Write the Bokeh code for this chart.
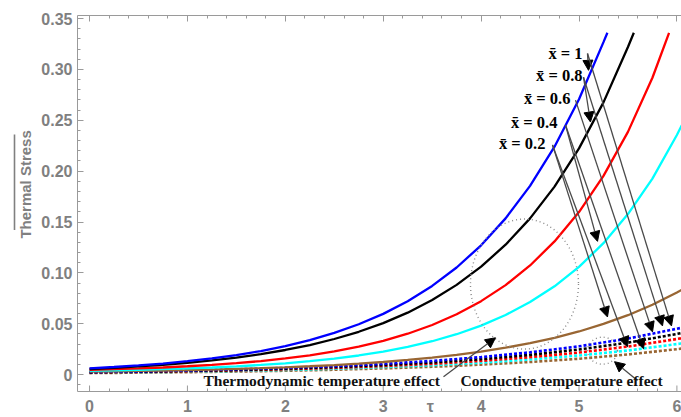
from math import pi

from bokeh.plotting import figure
from bokeh.layouts import row
from bokeh.models import (LinearAxis, SingleIntervalTicker, FixedTicker, NumeralTickFormatter,
                          Arrow, NormalHead, Label, ColumnDataSource)
from bokeh.core.properties import value
from bokeh.embed import file_html
from bokeh.resources import INLINE

# ---- thermodynamic temperature effect (solid curves), one series per x-bar ----
tau_x10 = [0.0, 0.25, 0.5, 0.75, 1.0, 1.25, 1.5, 1.75, 2.0, 2.25, 2.5, 2.75, 3.0,
           3.25, 3.5, 3.75, 4.0, 4.25, 4.5, 4.75, 5.0, 5.25, 5.29]
stress_x10 = [0.0062, 0.0075, 0.0090, 0.0109, 0.0132, 0.0159, 0.0192, 0.0232, 0.0281,
              0.0339, 0.0410, 0.0495, 0.0597, 0.0722, 0.0872, 0.1053, 0.1271, 0.1536,
              0.1855, 0.2240, 0.2706, 0.3268, 0.3360]

tau_x08 = [0.0, 0.25, 0.5, 0.75, 1.0, 1.25, 1.5, 1.75, 2.0, 2.25, 2.5, 2.75, 3.0,
           3.25, 3.5, 3.75, 4.0, 4.25, 4.5, 4.75, 5.0, 5.25, 5.5, 5.56]
stress_x08 = [0.0055, 0.0066, 0.0080, 0.0096, 0.0115, 0.0139, 0.0167, 0.0201, 0.0242,
              0.0291, 0.0350, 0.0421, 0.0506, 0.0609, 0.0733, 0.0882, 0.1061, 0.1277,
              0.1536, 0.1848, 0.2224, 0.2676, 0.3220, 0.3360]

tau_x06 = [0.0, 0.25, 0.5, 0.75, 1.0, 1.25, 1.5, 1.75, 2.0, 2.25, 2.5, 2.75, 3.0,
           3.25, 3.5, 3.75, 4.0, 4.25, 4.5, 4.75, 5.0, 5.25, 5.5, 5.75, 5.92]
stress_x06 = [0.0048, 0.0054, 0.0061, 0.0070, 0.0082, 0.0096, 0.0113, 0.0133, 0.0159,
              0.0190, 0.0228, 0.0275, 0.0332, 0.0402, 0.0488, 0.0593, 0.0722, 0.0880,
              0.1073, 0.1309, 0.1598, 0.1953, 0.2386, 0.2918, 0.3360]

tau_x04 = [0.0, 0.25, 0.5, 0.75, 1.0, 1.25, 1.5, 1.75, 2.0, 2.25, 2.5, 2.75, 3.0,
           3.25, 3.5, 3.75, 4.0, 4.25, 4.5, 4.75, 5.0, 5.25, 5.5, 5.75, 6.0, 6.05]
stress_x04 = [0.0038, 0.0042, 0.0047, 0.0053, 0.0061, 0.0070, 0.0081, 0.0095, 0.0111,
              0.0132, 0.0157, 0.0188, 0.0226, 0.0272, 0.0328, 0.0397, 0.0482, 0.0586,
              0.0713, 0.0868, 0.1059, 0.1292, 0.1578, 0.1927, 0.2355, 0.2452]

tau_x02 = [0.0, 0.25, 0.5, 0.75, 1.0, 1.25, 1.5, 1.75, 2.0, 2.25, 2.5, 2.75, 3.0,
           3.25, 3.5, 3.75, 4.0, 4.25, 4.5, 4.75, 5.0, 5.25, 5.5, 5.75, 6.0, 6.05]
stress_x02 = [0.0030, 0.0033, 0.0036, 0.0040, 0.0044, 0.0049, 0.0056, 0.0063, 0.0072,
              0.0082, 0.0094, 0.0108, 0.0124, 0.0144, 0.0167, 0.0194, 0.0227, 0.0265,
              0.0309, 0.0362, 0.0424, 0.0498, 0.0584, 0.0687, 0.0807, 0.0834]

# ---- conductive temperature effect (dashed curves) ----
tau_cond = [0.0, 0.5, 1.0, 1.5, 2.0, 2.5, 3.0, 3.5, 4.0, 4.5, 5.0, 5.5, 6.0, 6.05]
cond_x10 = [0.0025, 0.0032, 0.0040, 0.0052, 0.0066, 0.0083, 0.0106, 0.0135, 0.0172,
            0.0219, 0.0278, 0.0354, 0.0451, 0.0461]
cond_x08 = [0.0022, 0.0028, 0.0036, 0.0045, 0.0058, 0.0074, 0.0094, 0.0119, 0.0152,
            0.0194, 0.0247, 0.0314, 0.0400, 0.0410]
cond_x06 = [0.0020, 0.0025, 0.0032, 0.0041, 0.0052, 0.0066, 0.0084, 0.0106, 0.0135,
            0.0171, 0.0217, 0.0276, 0.0350, 0.0358]
cond_x04 = [0.0018, 0.0023, 0.0029, 0.0036, 0.0046, 0.0058, 0.0074, 0.0093, 0.0117,
            0.0149, 0.0188, 0.0237, 0.0300, 0.0307]
cond_x02 = [0.0015, 0.0019, 0.0024, 0.0030, 0.0038, 0.0048, 0.0061, 0.0077, 0.0098,
            0.0124, 0.0156, 0.0198, 0.0250, 0.0256]

colors = {"x10": "#0000ff", "x08": "#000000", "x06": "#ff0000",
          "x04": "#00ffff", "x02": "#996633"}

# ---- axes ----
x_major_ticks = [0, 1, 2, 3, 4, 5, 6]
x_minor_ticks = [0.2, 0.4, 0.6, 0.8, 1.2, 1.4, 1.6, 1.8, 2.2, 2.4, 2.6, 2.8, 3.2, 3.4,
                 3.6, 3.8, 4.2, 4.4, 4.6, 4.8, 5.2, 5.4, 5.6, 5.8]
tau_symbol_at = 3.48
x_lo, x_hi = -0.123, 6.047
y_lo, y_hi = -0.0166, 0.353

# ---- annotations ----
xbar_labels = ["x\u0304 = 1", "x\u0304 = 0.8", "x\u0304 = 0.6", "x\u0304 = 0.4", "x\u0304 = 0.2"]
xbar_label_x = [5.036, 5.036, 4.913, 4.780, 4.657]
xbar_label_y = [0.316, 0.294, 0.271, 0.248, 0.227]

arrow_x0 = [5.087, 5.087, 5.046, 5.046, 4.964, 4.862, 4.862, 4.729, 4.729, 3.616, 5.597]
arrow_y0 = [0.3157, 0.3157, 0.2923, 0.2923, 0.2698, 0.2454, 0.2454, 0.2258, 0.2258, -0.002, -0.0059]
arrow_x1 = [5.097, 5.945, 5.117, 5.853, 5.751, 5.189, 5.659, 5.291, 5.495, 4.147, 5.363]
arrow_y1 = [0.2991, 0.0479, 0.2483, 0.0479, 0.0420, 0.1310, 0.0254, 0.0567, 0.0274, 0.0362, 0.0127]

AXIS_GRAY = "#9a9a9a"
LABEL_GRAY = "#808080"

# ---- strip carrying the overlined vertical axis title ----
ylab = figure(width=35, height=417, x_range=(0, 35), y_range=(0, 417),
              output_backend="svg", toolbar_location=None,
              x_axis_location=None, y_axis_location=None, min_border=0)
ylab.grid.visible = False
ylab.outline_line_color = None
ylab.text(x=[25], y=[232], text=["Thermal  Stress"], angle=pi / 2,
          text_align="center", text_baseline="middle",
          text_font=value("Liberation Sans"), text_font_style="bold",
          text_font_size=value("15px"), text_color=LABEL_GRAY)
ylab.segment(x0=[14], y0=[179], x1=[14], y1=[285], line_color=LABEL_GRAY, line_width=1.6)

# ---- main chart ----
p = figure(width=646, height=417, x_range=(x_lo, x_hi), y_range=(y_lo, y_hi),
           output_backend="svg", toolbar_location=None,
           min_border_left=42, min_border_right=0, min_border_top=15, min_border_bottom=24)
p.grid.visible = False
p.outline_line_color = None

# dashed (conductive) curves underneath
for key, ys in [("x02", cond_x02), ("x04", cond_x04), ("x06", cond_x06),
                ("x08", cond_x08), ("x10", cond_x10)]:
    p.line(tau_cond, ys, line_color=colors[key], line_width=2.6, line_dash="3 2")

# solid (thermodynamic) curves
for key, xs, ys in [("x02", tau_x02, stress_x02), ("x04", tau_x04, stress_x04),
                    ("x06", tau_x06, stress_x06), ("x08", tau_x08, stress_x08),
                    ("x10", tau_x10, stress_x10)]:
    p.line(xs, ys, line_color=colors[key], line_width=2.3)

# dotted circles marking the two effects
p.ellipse(x=[4.443, 5.24], y=[0.089, 0.0235], width=[108, 30], height=[130, 27],
          width_units="screen", height_units="screen", fill_color=None,
          line_color="#8a8a8a", line_width=1.4, line_dash="1 3")

# arrows from labels to curves
arrows = ColumnDataSource(dict(x0=arrow_x0, y0=arrow_y0, x1=arrow_x1, y1=arrow_y1))
p.add_layout(Arrow(source=arrows, x_start="x0", y_start="y0", x_end="x1", y_end="y1",
                   line_color="#4a4a4a", line_width=1.3,
                   end=NormalHead(size=10, fill_color="black", line_color="black")))

for txt, lx, ly in zip(xbar_labels, xbar_label_x, xbar_label_y):
    p.add_layout(Label(x=lx, y=ly, text=txt, text_align="right", text_baseline="middle",
                       text_font="Liberation Serif", text_font_style="bold",
                       text_font_size="16.5px", text_color="black"))

p.add_layout(Label(x=1.164, y=-0.0059, text="Thermodynamic temperature effect",
                   text_baseline="middle", text_font="Liberation Serif",
                   text_font_style="bold", text_font_size="15.5px", text_color="#111111"))
p.add_layout(Label(x=3.79, y=-0.0059, text="Conductive temperature effect",
                   text_baseline="middle", text_font="Liberation Serif",
                   text_font_style="bold", text_font_size="15.5px", text_color="#111111"))

# bottom axis: numbers plus the tau symbol in the same row
p.xaxis.ticker = FixedTicker(ticks=sorted(x_major_ticks + [tau_symbol_at]),
                             minor_ticks=x_minor_ticks)
p.xaxis.major_label_overrides = {tau_symbol_at: "\u03c4"}
p.yaxis.ticker = SingleIntervalTicker(interval=0.05, num_minor_ticks=5)
p.yaxis.formatter = NumeralTickFormatter(format="0.00")
p.yaxis.major_label_overrides = {0: "0"}

for ax in (p.xaxis[0], p.yaxis[0]):
    ax.axis_line_color = AXIS_GRAY
    ax.major_tick_line_color = AXIS_GRAY
    ax.minor_tick_line_color = AXIS_GRAY
    ax.major_tick_in = 6
    ax.major_tick_out = 0
    ax.minor_tick_in = 3
    ax.minor_tick_out = 0
    ax.major_label_text_font = "Liberation Sans"
    ax.major_label_text_font_style = "bold"
    ax.major_label_text_font_size = "16px"
    ax.major_label_text_color = LABEL_GRAY

# the bottom axis draws its long ticks as markers so the tau slot stays tick-free
p.xaxis.major_tick_in = 0
p.scatter(x=x_major_ticks, y=[y_lo] * len(x_major_ticks), marker="dash", size=12,
          angle=pi / 2, line_color=AXIS_GRAY, line_width=1)

p.xaxis.major_label_standoff = 6
p.yaxis.major_label_standoff = 5

top = LinearAxis(ticker=SingleIntervalTicker(interval=1, num_minor_ticks=5),
                 axis_line_color=AXIS_GRAY, major_tick_line_color=AXIS_GRAY,
                 minor_tick_line_color=AXIS_GRAY, major_tick_in=6, major_tick_out=0,
                 minor_tick_in=3, minor_tick_out=0, major_label_text_font_size="1px",
                 major_label_text_color=None, major_label_standoff=0)
p.add_layout(top, "above")

layout = row(ylab, p, spacing=0)
open("out.html", "w").write(file_html(layout, INLINE))
